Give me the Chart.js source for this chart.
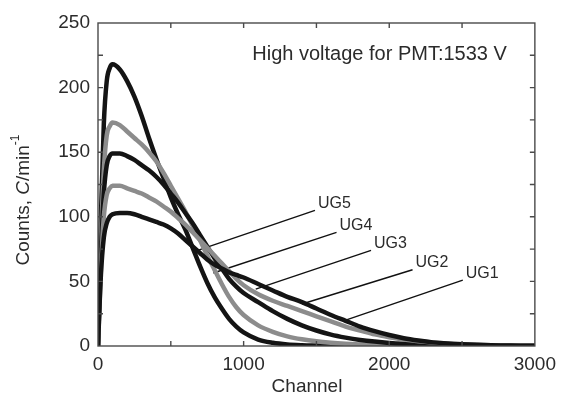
<!DOCTYPE html>
<html>
<head>
<meta charset="utf-8">
<script src="https://cdn.jsdelivr.net/npm/chart.js@4"></script>
<style>
  html, body { margin: 0; padding: 0; background: #fff; }
  #wrap { width: 563px; height: 401px; }
</style>
</head>
<body>
<div id="wrap"><canvas id="spectra" width="563" height="401"></canvas></div>
<script>
'use strict';

// channel numbers shared by every spectrum
let channels = [0, 20, 40, 60, 80, 100, 150, 200, 250, 300, 350, 400, 450, 500, 550, 600, 650, 700, 750, 800,
  850, 900, 950, 1000, 1100, 1200, 1300, 1400, 1500, 1600, 1700, 1800, 1900, 2000, 2100, 2200, 2300, 2400,
  2500, 2600, 2700, 2800, 2900, 3000];

// counts (C/min-1)
let ug5 = [0, 100, 172, 205, 215, 218, 214, 205, 193, 178, 161, 145, 130, 115, 102, 90, 76, 62, 49, 38,
  29, 21, 15, 10.5, 5, 2.5, 1.2, 0.6, 0.3, 0.1, 0, 0, 0, 0, 0, 0, 0, 0, 0, 0, 0, 0, 0, 0];
let ug4 = [0, 80, 136, 163, 170, 173, 171, 166, 161, 156, 150, 143, 134, 124, 114, 104, 93, 82, 70, 59,
  48, 38, 30, 24, 16, 11, 7.5, 5.2, 3.6, 2.5, 1.7, 1.1, 0.7, 0.4, 0.2, 0.1, 0, 0, 0, 0, 0, 0, 0, 0];
let ug3 = [0, 70, 118, 140, 147, 149, 149, 147, 144, 140, 136, 131, 125, 118, 111, 103, 95, 86, 77, 68,
  60, 52, 46, 41, 34, 27, 21, 16, 12, 8.8, 6.5, 4.7, 3.4, 2.4, 1.7, 1.2, 0.8, 0.5, 0.3, 0.2, 0.1, 0, 0, 0];
let ug2 = [0, 60, 100, 117, 122, 124, 124, 122, 120, 118, 115, 112, 108, 104, 99, 94, 88, 82, 76, 70,
  64, 58, 52, 47, 40, 35, 31, 27, 23, 19, 15, 12, 9, 6.8, 5, 3.7, 2.7, 1.9, 1.3, 0.9, 0.6, 0.4, 0.2, 0.1];
let ug1 = [0, 55, 84, 95, 100, 102, 103, 103, 102, 100, 98, 96, 94, 91, 87, 82, 77, 72, 67, 63,
  60, 57, 55, 53, 48, 43, 38, 34, 29, 24, 19.5, 15, 11.5, 8.5, 6, 4.2, 2.8, 1.9, 1.3, 0.9, 0.6, 0.4, 0.2, 0.1];

let seriesNames = ['UG5', 'UG4', 'UG3', 'UG2', 'UG1'];
let seriesValues = [ug5, ug4, ug3, ug2, ug1];
let seriesColors = ['#141414', '#8c8c8c', '#141414', '#8c8c8c', '#141414'];

// label pointers: [channel, counts] at the label end and at the curve end
let pointerFrom = [[1490, 105], [1638, 88], [1875, 74], [2160, 59], [2505, 51]];
let pointerTo = [[670, 73.5], [792, 56.5], [1083, 44], [1401, 32.5], [1686, 19.4]];

let xTicks = [0, 1000, 2000, 3000];
let yTicks = [0, 50, 100, 150, 200, 250];
let noteText = 'High voltage for PMT:1533 V';

const FONT = '"Liberation Sans", Arial, sans-serif';
const TEXT = '#2b2b2b';

function toPoints(values) {
  let pts = [];
  for (let i = 0; i < channels.length; i++) {
    pts.push({ x: channels[i], y: values[i] });
  }
  return pts;
}

let datasets = [];
// draw UG1 first so the narrow peaks sit on top
for (let i = seriesValues.length - 1; i >= 0; i--) {
  datasets.push({
    label: seriesNames[i],
    data: toPoints(seriesValues[i]),
    borderColor: seriesColors[i],
    borderWidth: 4.5,
    pointRadius: 0,
    cubicInterpolationMode: 'monotone',
    fill: false
  });
}
for (let i = 0; i < pointerFrom.length; i++) {
  datasets.push({
    label: 'pointer-' + seriesNames[i],
    data: [{ x: pointerFrom[i][0], y: pointerFrom[i][1] }, { x: pointerTo[i][0], y: pointerTo[i][1] }],
    borderColor: '#111',
    borderWidth: 1.4,
    pointRadius: 0,
    tension: 0
  });
}

// frame, inward ticks, texts
const decorations = {
  id: 'decorations',
  afterDatasetsDraw(chart) {
    const ctx = chart.ctx;
    const a = chart.chartArea;
    const xs = chart.scales.x;
    const ys = chart.scales.y;
    ctx.save();
    ctx.strokeStyle = '#4a4a4a';
    ctx.lineWidth = 1.4;
    ctx.strokeRect(a.left, a.top, a.right - a.left, a.bottom - a.top);
    ctx.beginPath();
    for (let v = 500; v < 3000; v += 500) {
      let px = xs.getPixelForValue(v);
      ctx.moveTo(px, a.bottom); ctx.lineTo(px, a.bottom - 5);
      ctx.moveTo(px, a.top); ctx.lineTo(px, a.top + 5);
    }
    for (let v = 25; v < 250; v += 25) {
      let py = ys.getPixelForValue(v);
      ctx.moveTo(a.left, py); ctx.lineTo(a.left + 5, py);
      ctx.moveTo(a.right, py); ctx.lineTo(a.right - 5, py);
    }
    ctx.stroke();

    ctx.fillStyle = TEXT;
    ctx.font = '16px ' + FONT;
    ctx.textBaseline = 'middle';
    ctx.textAlign = 'left';
    for (let i = 0; i < pointerFrom.length; i++) {
      let px = xs.getPixelForValue(pointerFrom[i][0]);
      let py = ys.getPixelForValue(pointerFrom[i][1]);
      ctx.fillText(seriesNames[i], px + 3, py - 7);
    }

    ctx.font = '20px ' + FONT;
    ctx.textAlign = 'right';
    ctx.fillText(noteText, a.right - 28, a.top + 31);

    ctx.font = '19px ' + FONT;
    ctx.textAlign = 'center';
    ctx.fillText('Channel', 307, 387);

    // y title: Counts, C/min^-1
    ctx.translate(24, 200);
    ctx.rotate(-Math.PI / 2);
    let parts = [
      { t: 'Counts, ', f: '19px ' + FONT, dy: 0 },
      { t: 'C', f: 'italic 19px ' + FONT, dy: 0 },
      { t: '/min', f: '19px ' + FONT, dy: 0 },
      { t: '-1', f: '12px ' + FONT, dy: -8 }
    ];
    let total = 0;
    for (let p of parts) { ctx.font = p.f; total += ctx.measureText(p.t).width; }
    let x = -total / 2;
    ctx.textAlign = 'left';
    for (let p of parts) {
      ctx.font = p.f;
      ctx.fillText(p.t, x, p.dy);
      x += ctx.measureText(p.t).width;
    }
    ctx.restore();
  }
};

const ctx = document.getElementById('spectra');
const spectraChart = new Chart(ctx, {
  type: 'line',
  data: { datasets: datasets },
  options: {
    responsive: false,
    animation: false,
    layout: { padding: { top: 23, right: 22, left: 0, bottom: 0 } },
    plugins: { legend: { display: false }, tooltip: { enabled: false } },
    scales: {
      x: {
        type: 'linear',
        min: 0,
        max: 3000,
        afterBuildTicks(scale) { scale.ticks = xTicks.map(v => ({ value: v })); },
        afterFit(scale) { scale.height = 55; },
        grid: { display: false, drawTicks: false },
        border: { display: false },
        ticks: {
          padding: 7, color: TEXT, font: { family: FONT, size: 19 }, maxRotation: 0,
          callback: (value) => String(value)
        }
      },
      y: {
        type: 'linear',
        min: 0,
        max: 250,
        afterBuildTicks(scale) { scale.ticks = yTicks.map(v => ({ value: v })); },
        afterFit(scale) { scale.width = 98; },
        grid: { display: false, drawTicks: false },
        border: { display: false },
        ticks: { padding: 8, color: TEXT, font: { family: FONT, size: 19 }, callback: (value) => String(value) }
      }
    }
  },
  plugins: [decorations]
});
</script>
</body>
</html>
